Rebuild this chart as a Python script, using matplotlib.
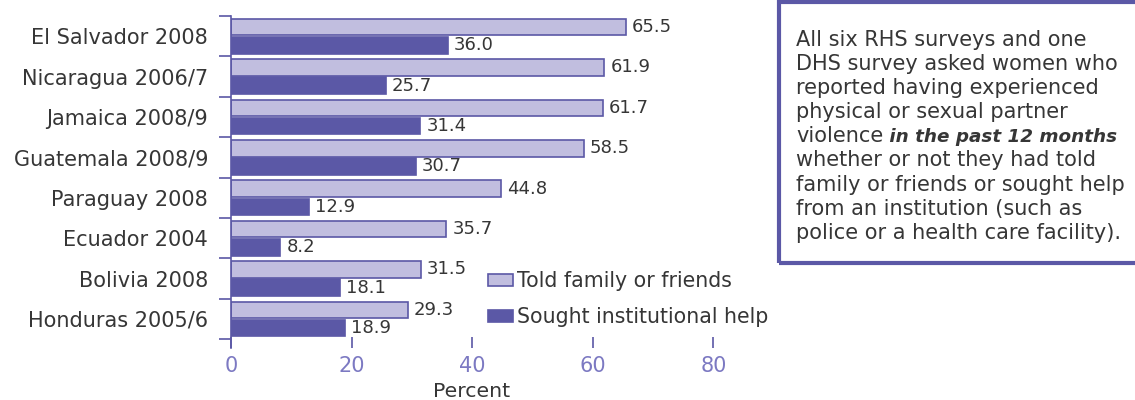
import numpy as np
import matplotlib
matplotlib.use('Agg')
from matplotlib import pyplot as plt
from matplotlib.patches import Rectangle

plt.rcParams['font.family'] = ['DejaVu Sans']

paises = ['El Salvador 2008', 'Nicaragua 2006/7', 'Jamaica 2008/9', 'Guatemala 2008/9',
          'Paraguay 2008', 'Ecuador 2004', 'Bolivia 2008', 'Honduras 2005/6']
familia = [65.5, 61.9, 61.7, 58.5, 44.8, 35.7, 31.5, 29.3]
instit = [36.0, 25.7, 31.4, 30.7, 12.9, 8.2, 18.1, 18.9]
xticks = [0, 20, 40, 60, 80]
leg = ['Told family or friends', 'Sought institutional help']

c_claro = '#c1bedf'
c_escuro = '#5b58a6'
c_borda = '#5b58a6'
c_tick = '#7c79c2'
c_txt = '#363636'

W, H = 1135., 400.
px_un = 6.03  # pixels por unidade (%)
xmax = 90

fig = plt.figure(figsize=(W/100, H/100), dpi=100)
ax = fig.add_axes([231/W, 52/H, xmax*px_un/W, 332/H])

y = np.arange(len(paises))
h = 0.41
ax.barh(y - 0.225, familia, height=h, color=c_claro, edgecolor=c_borda, linewidth=1.2, label=leg[0])
ax.barh(y + 0.225, instit, height=h, color=c_escuro, edgecolor=c_escuro, linewidth=1.2, label=leg[1])

for i in range(len(paises)):
    ax.text(familia[i] + 1.0, y[i] - 0.225, '%.1f' % familia[i], va='center', ha='left',
            fontsize=13, color=c_txt)
    ax.text(instit[i] + 1.0, y[i] + 0.225, '%.1f' % instit[i], va='center', ha='left',
            fontsize=13, color=c_txt)

ax.set_xlim(0, xmax)
ax.set_ylim(len(paises) - 0.5 + 0.22, -0.5)

# ticks do eixo y nas fronteiras dos grupos
ax.set_yticks(np.arange(-0.5, len(paises), 1.0))
ax.set_yticklabels([])
ax.set_yticks(y, minor=True)
ax.set_yticklabels(paises, minor=True, fontsize=15, color=c_txt)
ax.tick_params(axis='y', which='major', direction='out', length=9, color=c_borda, width=1.2)
ax.tick_params(axis='y', which='minor', length=0, pad=16.5)

ax.set_xticks(xticks)
ax.set_xticklabels([str(v) for v in xticks], fontsize=15, color=c_tick)
ax.tick_params(axis='x', direction='in', length=8, color=c_borda, width=1.2, pad=6)

for s in ['top', 'right', 'bottom']:
    ax.spines[s].set_visible(False)
ax.spines['left'].set_color(c_borda)
ax.spines['left'].set_linewidth(1.2)

ax.set_xlabel('Percent', fontsize=14.7, color=c_txt, va='baseline')
ax.xaxis.set_label_coords(472/W, 3/H, transform=fig.transFigure)

ax.legend(loc='upper left', bbox_to_anchor=(488/W, 1 - 271/H), bbox_transform=fig.transFigure,
          frameon=False, fontsize=14.8, handlelength=1.2, handleheight=0.5, handletextpad=0.2,
          labelspacing=0.8, borderpad=0, borderaxespad=0, labelcolor=c_txt)

# caixa de texto
fig.patches.append(Rectangle((779/W, 137/H), 400/W, 261/H, transform=fig.transFigure,
                             fill=False, edgecolor=c_borda, linewidth=3))
linhas = ['All six RHS surveys and one',
          'DHS survey asked women who',
          'reported having experienced',
          'physical or sexual partner',
          'violence',
          'whether or not they had told',
          'family or friends or sought help',
          'from an institution (such as',
          'police or a health care facility).']
for k, l in enumerate(linhas):
    t = fig.text(796/W, 1 - (40 + 24.1*k)/H, l, fontsize=15, color=c_txt, va='center', ha='left')
    if l == 'violence':
        ax.annotate(' in the past 12 months', xy=(1, 0), xycoords=t, va='bottom', ha='left',
                    fontsize=13.2, color=c_txt, style='italic', weight='bold',
                    annotation_clip=False)

fig.savefig('out.png', dpi=100)
